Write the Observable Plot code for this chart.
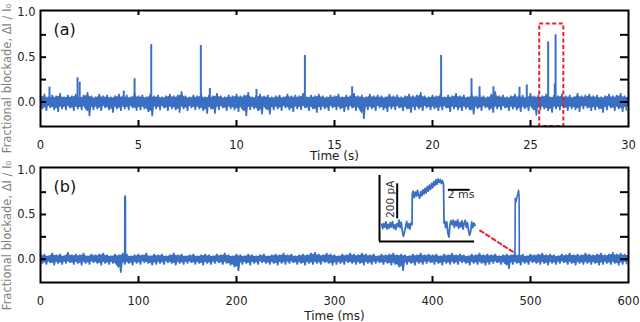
<!DOCTYPE html>
<html>
<head>
<meta charset="utf-8">
<script src="https://cdn.jsdelivr.net/npm/d3@7"></script>
<script src="https://cdn.jsdelivr.net/npm/@observablehq/plot@0.6"></script>
<style>
  html, body { margin: 0; padding: 0; background: #fff; }
  #wrap { position: relative; width: 640px; height: 322px; overflow: hidden; background: #fff; }
  #wrap svg { position: absolute; overflow: visible; }
</style>
</head>
<body>
<div id="wrap"></div>
<script>
// ---------- Panel (a): time in s ----------
const binA = 0.2; // s per envelope bin
const hiA = [
0.07,0.09,0.06,0.08,0.07,0.10,0.06,0.08,0.07,0.09,
0.06,0.08,0.11,0.07,0.06,0.09,0.07,0.08,0.06,0.07,
0.09,0.07,0.08,0.06,0.10,0.07,0.08,0.06,0.09,0.07,
0.08,0.06,0.07,0.09,0.07,0.08,0.12,0.07,0.06,0.08,
0.07,0.09,0.06,0.08,0.07,0.10,0.07,0.06,0.08,0.07,
0.09,0.07,0.08,0.11,0.06,0.07,0.09,0.07,0.08,0.06,
0.07,0.08,0.06,0.09,0.07,0.08,0.07,0.10,0.06,0.08,
0.07,0.09,0.07,0.06,0.08,0.07,0.09,0.06,0.08,0.07,
0.10,0.07,0.08,0.06,0.09,0.07,0.08,0.07,0.06,0.09,
0.07,0.08,0.06,0.07,0.09,0.07,0.08,0.11,0.07,0.06,
0.08,0.07,0.09,0.06,0.08,0.07,0.10,0.07,0.08,0.06,
0.09,0.07,0.08,0.07,0.06,0.09,0.12,0.07,0.08,0.06,
0.07,0.09,0.07,0.08,0.06,0.10,0.07,0.08,0.07,0.09,
0.06,0.08,0.07,0.09,0.07,0.08,0.06,0.10,0.07,0.08,
0.09,0.07,0.08,0.06,0.07,0.09,0.07,0.08,0.10,0.07];
const loA = [
-0.08,-0.10,-0.07,-0.09,-0.11,-0.08,-0.09,-0.07,-0.10,-0.08,
-0.09,-0.07,-0.16,-0.09,-0.08,-0.10,-0.07,-0.09,-0.12,-0.08,
-0.10,-0.08,-0.09,-0.07,-0.10,-0.09,-0.08,-0.11,-0.16,-0.08,
-0.09,-0.07,-0.10,-0.08,-0.09,-0.12,-0.08,-0.10,-0.07,-0.09,
-0.08,-0.10,-0.13,-0.08,-0.13,-0.09,-0.07,-0.10,-0.08,-0.09,
-0.11,-0.08,-0.16,-0.09,-0.08,-0.10,-0.14,-0.08,-0.14,-0.09,
-0.08,-0.10,-0.07,-0.09,-0.11,-0.08,-0.09,-0.07,-0.10,-0.08,
-0.12,-0.09,-0.08,-0.10,-0.07,-0.09,-0.08,-0.11,-0.09,-0.07,
-0.10,-0.08,-0.19,-0.09,-0.08,-0.10,-0.07,-0.09,-0.11,-0.08,
-0.09,-0.07,-0.10,-0.08,-0.12,-0.09,-0.08,-0.10,-0.07,-0.09,
-0.08,-0.10,-0.09,-0.07,-0.11,-0.08,-0.09,-0.10,-0.08,-0.09,
-0.14,-0.08,-0.10,-0.07,-0.09,-0.12,-0.08,-0.09,-0.07,-0.10,
-0.08,-0.09,-0.11,-0.08,-0.10,-0.07,-0.15,-0.09,-0.08,-0.10,
-0.12,-0.08,-0.09,-0.07,-0.10,-0.08,-0.09,-0.11,-0.08,-0.07,
-0.10,-0.09,-0.08,-0.12,-0.09,-0.07,-0.10,-0.08,-0.11,-0.09];
const spikeTA = [0.46, 1.89, 2.0, 4.25, 4.8, 5.65, 8.18, 8.64, 11.02, 13.49, 15.9, 20.44, 21.99, 22.4, 23.11, 24.44, 24.81, 25.9, 26.24, 26.28];
const spikeVA = [0.165, 0.27, 0.22, 0.12, 0.26, 0.64, 0.63, 0.15, 0.14, 0.52, 0.17, 0.52, 0.26, 0.17, 0.17, 0.165, 0.19, 0.67, 0.2, 0.75];
const boxA = {x1: 25.47, x2: 26.70, y2: 0.87};
const xTicksA = [0, 5, 10, 15, 20, 25, 30];

// ---------- Panel (b): time in ms ----------
const binB = 4; // ms per envelope bin
const hiB = [
0.05,0.06,0.04,0.07,0.05,0.06,0.04,0.08,0.05,0.06,
0.05,0.07,0.04,0.06,0.05,0.06,0.07,0.05,0.04,0.06,
0.05,0.07,0.06,0.04,0.05,0.06,0.05,0.07,0.04,0.06,
0.05,0.06,0.04,0.05,0.07,0.05,0.06,0.04,0.05,0.06,
0.04,0.05,0.06,0.05,0.04,0.06,0.05,0.07,0.05,0.04,
0.06,0.05,0.04,0.06,0.05,0.04,0.05,0.06,0.04,0.05,
0.06,0.05,0.07,0.05,0.06,0.04,0.05,0.06,0.05,0.07,
0.08,0.06,0.05,0.07,0.06,0.05,0.04,0.06,0.05,0.07,
0.06,0.05,0.07,0.06,0.05,0.06,0.04,0.06,0.05,0.06,
0.07,0.05,0.06,0.05,0.04,0.06,0.05,0.07,0.05,0.06,
0.05,0.06,0.04,0.06,0.05,0.07,0.05,0.06,0.05,0.04,
0.06,0.05,0.07,0.05,0.06,0.05,0.06,0.04,0.05,0.06,
0.05,0.07,0.05,0.06,0.04,0.06,0.05,0.06,0.07,0.05,
0.06,0.05,0.04,0.06,0.05,0.07,0.05,0.06,0.05,0.07,
0.06,0.05,0.06,0.07,0.05,0.06,0.08,0.06,0.07,0.06];
const loB = [
-0.05,-0.06,-0.04,-0.07,-0.05,-0.06,-0.05,-0.04,-0.06,-0.05,
-0.07,-0.05,-0.06,-0.04,-0.05,-0.07,-0.05,-0.06,-0.05,-0.06,
-0.15,-0.06,-0.05,-0.07,-0.05,-0.06,-0.04,-0.05,-0.07,-0.06,
-0.05,-0.06,-0.04,-0.05,-0.07,-0.05,-0.06,-0.05,-0.04,-0.06,
-0.05,-0.07,-0.05,-0.06,-0.05,-0.04,-0.06,-0.05,-0.07,-0.09,
-0.13,-0.06,-0.05,-0.07,-0.05,-0.06,-0.04,-0.05,-0.06,-0.05,
-0.07,-0.05,-0.06,-0.05,-0.04,-0.06,-0.05,-0.07,-0.05,-0.06,
-0.05,-0.06,-0.04,-0.05,-0.07,-0.06,-0.05,-0.06,-0.04,-0.05,
-0.06,-0.05,-0.07,-0.05,-0.06,-0.05,-0.04,-0.06,-0.05,-0.07,
-0.06,-0.09,-0.13,-0.06,-0.05,-0.07,-0.05,-0.06,-0.05,-0.04,
-0.06,-0.05,-0.07,-0.05,-0.06,-0.05,-0.06,-0.04,-0.05,-0.07,
-0.05,-0.06,-0.05,-0.07,-0.06,-0.05,-0.04,-0.06,-0.05,-0.11,
-0.06,-0.05,-0.07,-0.05,-0.06,-0.04,-0.05,-0.06,-0.05,-0.07,
-0.05,-0.06,-0.05,-0.04,-0.06,-0.05,-0.07,-0.05,-0.06,-0.05,
-0.06,-0.05,-0.07,-0.06,-0.05,-0.06,-0.05,-0.07,-0.06,-0.05];
const event1T = [85.9, 86.0, 86.4, 86.7, 86.8];
const event1V = [0, 0.69, 0.71, 0.67, 0];
const event2T = [484.2, 484.4, 485.3, 486.2, 487.0, 487.8, 488.4, 488.6];
const event2V = [0, 0.68, 0.64, 0.70, 0.72, 0.77, 0.70, 0];
const connectorT = [448.6, 482.7];
const connectorV = [0.32, 0.078];
const xTicksB = [0, 100, 200, 300, 400, 500, 600];

// ---------- Inset: one event, time in ms, current in pA ----------
const insetT = [0.2,0.3,0.4,0.5,0.6,0.7,0.8,0.9,1.0,1.1,1.2,1.3,1.4,1.5,1.6,1.7,1.8,1.9,2.0,2.1,2.2,2.3,2.4,2.5,2.6,2.7,2.8,2.9,3.0,
  3.02,3.1,3.2,3.3,3.4,3.5,3.6,3.7,3.8,3.9,4.0,4.1,4.2,4.3,4.4,4.5,4.6,4.7,4.8,4.9,5.0,5.1,5.2,5.3,5.4,5.5,5.6,5.7,5.8,5.9,
  5.95,6.0,6.1,6.2,6.3,6.4,6.5,6.6,6.7,6.8,6.9,7.0,7.1,7.2,7.3,7.4,7.5,7.6,7.7,7.8,7.9,8.0,8.1,8.2,8.3,8.4,8.5,8.6,8.7,8.8];
const insetI = [8,-18,12,-10,20,-20,6,-14,16,-8,22,-16,4,-24,10,-6,30,-12,18,-30,-62,-38,-8,24,-14,10,-20,14,6,
  178,196,160,190,168,200,172,156,194,170,204,180,212,186,222,196,230,206,240,216,250,228,262,236,266,246,262,240,256,234,
  14,26,-12,20,-44,-66,8,28,4,30,-10,24,-2,32,-16,18,-8,26,-20,14,30,-10,16,-26,-56,-34,20,-12,14,0];
const scaleBarV = {t: 1.63, i1: 38, i2: 238, label: "200 pA"};
const scaleBarH = {t1: 6.35, t2: 8.35, i: 204, label: "2 ms"};

// ---------- styling ----------
const BLUE = "#3a6fc2";
const RED = "#e8202a";
const FONT = "DejaVu Sans";

const wrap = document.getElementById("wrap");

// envelope rows (for the filled core) and a zig-zag trace between the envelope values
function bandTable(hi, lo, step, end) {
  const rows = hi.map((h, i) => ({t: i * step, hi: h, lo: lo[i]}));
  rows.push({t: end, hi: hi[hi.length - 1], lo: lo[lo.length - 1]});
  return rows;
}
function zigzag(hi, lo, step) {
  const pts = [];
  hi.forEach((h, i) => {
    pts.push({t: i * step, v: h});
    pts.push({t: i * step + step / 2, v: lo[i]});
  });
  return pts;
}

function panel(opts) {
  const {height, marginTop, marginBottom, xDomain, yDomain, xTicks, band, trace, extra, xLabel, xLabelDy, tag, yLabelDy} = opts;
  const marginLeft = 40, marginRight = 12, width = 640;
  const plotH = height - marginTop - marginBottom;
  const plotW = width - marginLeft - marginRight;
  const innerX = xTicks.slice(1, -1);
  const yMinor = [0, 0.25, 0.5, 0.75];
  return Plot.plot({
    width, height, marginTop, marginBottom, marginLeft, marginRight,
    style: {fontFamily: FONT, fontSize: "11.5px", color: "#222", background: "transparent", overflow: "visible"},
    x: {domain: xDomain, ticks: xTicks, tickSize: 0, tickPadding: 14, label: null},
    y: {domain: yDomain, ticks: [0, 0.5, 1], tickSize: 0, tickPadding: 5, tickFormat: ".1f", label: null},
    marks: [
      Plot.areaY(band, {x: "t", y1: d => d.lo * 0.7, y2: d => d.hi * 0.7, curve: "linear", fill: BLUE}),
      Plot.line(trace, {x: "t", y: "v", stroke: BLUE, strokeWidth: 1.6, strokeLinejoin: "miter"}),
      ...extra,
      Plot.frame({stroke: "#000", strokeWidth: 2}),
      Plot.tickX(innerX, {x: d => d, insetTop: plotH - 6, stroke: "#000", strokeWidth: 2}),
      Plot.tickX(innerX, {x: d => d, insetBottom: plotH - 5, stroke: "#000", strokeWidth: 2}),
      Plot.tickY(yMinor, {y: d => d, insetRight: plotW - 6, stroke: "#000", strokeWidth: 2}),
      Plot.tickY(yMinor, {y: d => d, insetLeft: plotW - 8, stroke: "#000", strokeWidth: 2}),
      Plot.text([xLabel], {text: d => d, frameAnchor: "bottom", dy: xLabelDy, lineAnchor: "middle", textAnchor: "middle", fontSize: 12, fill: "#222"}),
      Plot.text(["Fractional blockade, \u0394I / I\u2080"], {text: d => d, frameAnchor: "left", dx: -33, dy: yLabelDy, rotate: -90, textAnchor: "middle", lineAnchor: "middle", fontSize: 11.5, fill: "#808080"}),
      Plot.text([tag], {text: d => d, frameAnchor: "top-left", dx: 13, dy: 19, textAnchor: "start", lineAnchor: "middle", fontSize: 16, fill: "#111"})
    ]
  });
}

// Panel (a)
const yDomA = [-0.274, 1.022];
const spikesA = spikeTA.map((t, i) => ({t, v: spikeVA[i]}));
const svgA = panel({
  height: 161, marginTop: 10, marginBottom: 35,
  xDomain: [0, 30], yDomain: yDomA, xTicks: xTicksA,
  band: bandTable(hiA, loA, binA, 30), trace: zigzag(hiA, loA, binA),
  extra: [
    Plot.ruleX(spikesA, {x: "t", y1: 0, y2: "v", stroke: BLUE, strokeWidth: 2}),
    Plot.rect([boxA], {x1: "x1", x2: "x2", y1: () => yDomA[0], y2: "y2", fill: "none", stroke: RED, strokeWidth: 2, strokeDasharray: "4,2.5"})
  ],
  xLabel: "Time (s)", xLabelDy: 30, tag: "(a)", yLabelDy: 10
});
svgA.style.left = "0px"; svgA.style.top = "0px";
wrap.appendChild(svgA);

// Panel (b)
const ev1 = event1T.map((t, i) => ({t, v: event1V[i]}));
const ev2 = event2T.map((t, i) => ({t, v: event2V[i]}));
const conn = connectorT.map((t, i) => ({t, v: connectorV[i]}));
const svgB = panel({
  height: 161, marginTop: 6, marginBottom: 40,
  xDomain: [0, 600], yDomain: [-0.261, 1.026], xTicks: xTicksB,
  band: bandTable(hiB, loB, binB, 600), trace: zigzag(hiB, loB, binB),
  extra: [
    Plot.line(ev1, {x: "t", y: "v", stroke: BLUE, strokeWidth: 1.6}),
    Plot.line(ev2, {x: "t", y: "v", stroke: BLUE, strokeWidth: 1.6}),
    Plot.line(conn, {x: "t", y: "v", stroke: RED, strokeWidth: 2, strokeDasharray: "4,3"})
  ],
  xLabel: "Time (ms)", xLabelDy: 33.5, tag: "(b)", yLabelDy: 10.5
});
svgB.style.left = "0px"; svgB.style.top = "161px";
wrap.appendChild(svgB);

// Inset
const insetData = insetT.map((t, i) => ({t, i: insetI[i]}));
const svgI = Plot.plot({
  width: 100, height: 72, marginLeft: 1, marginRight: 1, marginTop: 2, marginBottom: 2,
  style: {fontFamily: FONT, fontSize: "11px", color: "#333", background: "transparent", overflow: "visible"},
  x: {domain: [0, 9.03], axis: null},
  y: {domain: [-97.1, 291.4], axis: null},
  marks: [
    Plot.line(insetData, {x: "t", y: "i", stroke: BLUE, strokeWidth: 1.8}),
    Plot.ruleX([0], {x: d => d, y1: -91, y2: 286, stroke: "#000", strokeWidth: 2}),
    Plot.ruleY([-91], {y: d => d, x1: 0, x2: 8.76, stroke: "#000", strokeWidth: 2}),
    Plot.ruleX([scaleBarV], {x: "t", y1: "i1", y2: "i2", stroke: "#000", strokeWidth: 2}),
    Plot.ruleY([scaleBarH], {y: "i", x1: "t1", x2: "t2", stroke: "#000", strokeWidth: 2}),
    Plot.text([scaleBarH], {x: "t1", y: () => 175, text: "label", textAnchor: "start", lineAnchor: "middle", dx: -1, fontSize: 11, fill: "#333"}),
    Plot.text([scaleBarV], {x: () => 1.38, y: () => 150, text: "label", rotate: -90, textAnchor: "middle", lineAnchor: "bottom", fontSize: 10.5, fill: "#333"})
  ]
});
svgI.style.left = "378px"; svgI.style.top = "172px";
wrap.appendChild(svgI);
</script>
</body>
</html>
